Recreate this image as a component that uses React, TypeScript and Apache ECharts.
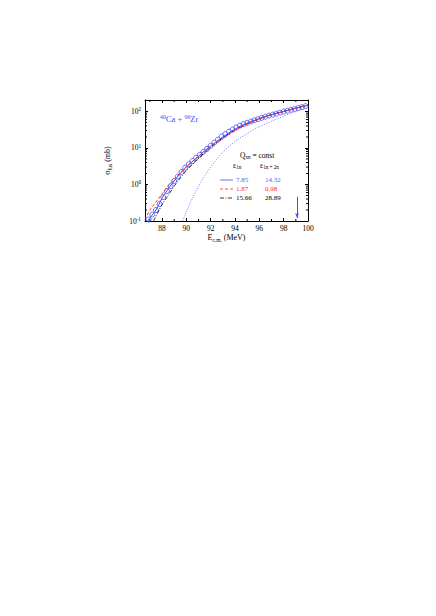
import React, { useEffect, useRef } from 'react';
import * as echarts from 'echarts';

const X_MIN = 86.6;
const X_MAX = 100;
const Y_MIN = 0.1;
const Y_MAX = 206;

const xTicks = [88, 90, 92, 94, 96, 98, 100];
const xMinorTicks = [87, 89, 91, 93, 95, 97, 99];
const yMinorTicks = [0.2, 0.3, 0.4, 0.5, 0.6, 0.7, 0.8, 0.9, 2, 3, 4, 5, 6, 7, 8, 9, 20, 30, 40, 50, 60, 70, 80, 90, 200];

// experimental points (open circles)
const expE = [86.9, 87.2, 87.5, 87.8, 88.1, 88.4, 88.7, 89.0, 89.3, 89.6, 89.9, 90.2, 90.5, 90.8, 91.1, 91.4, 91.7, 92.0, 92.3, 92.6, 92.9, 93.2, 93.5, 93.8, 94.1, 94.4, 94.7, 95.0, 95.3, 95.6, 95.9, 96.2, 96.5, 96.8, 97.1, 97.4, 97.7, 98.0, 98.3, 98.6, 98.9, 99.2, 99.5, 99.8];
const expSigma = [0.11, 0.15, 0.2, 0.29, 0.45, 0.66, 0.9, 1.25, 1.65, 2.2, 2.9, 3.6, 4.4, 5.4, 6.5, 7.8, 9.4, 11.5, 14, 17, 20.5, 24, 28, 32, 36.5, 41, 45, 49, 53, 57.5, 62, 67, 72, 77, 82, 87, 93, 99, 105, 111, 117, 124, 131, 140];

// solid blue
const solidE = [86.8, 87.5, 88.0, 88.5, 89.0, 89.5, 90.0, 91.0, 92.0, 93.0, 94.0, 95.0, 96.0, 97.0, 98.0, 99.0, 100.0];
const solidSigma = [0.1, 0.2, 0.42, 0.75, 1.25, 2.0, 3.0, 6.0, 11.5, 20, 33, 48, 64, 82, 100, 122, 150];

// dashed red
const dashE = [86.6, 87.0, 87.5, 88.0, 88.5, 89.0, 90.0, 91.0, 92.0, 93.0, 94.0, 95.0, 96.0, 97.0, 98.0, 99.0, 100.0];
const dashSigma = [0.11, 0.2, 0.33, 0.55, 0.9, 1.4, 3.1, 5.8, 10.5, 18, 30, 45, 62, 80, 100, 123, 150];

// dash-dot black
const dashDotE = [87.3, 88.0, 88.5, 89.0, 89.5, 90.0, 91.0, 92.0, 93.0, 94.0, 95.0, 96.0, 97.0, 98.0, 99.0, 100.0];
const dashDotSigma = [0.1, 0.28, 0.5, 0.9, 1.5, 2.4, 5.2, 10.5, 19, 31, 46, 63, 82, 101, 124, 150];

// dotted blue
const dotE = [89.7, 90.0, 90.5, 91.0, 91.5, 92.0, 92.5, 93.0, 94.0, 95.0, 96.0, 97.0, 98.0, 99.0, 100.0];
const dotSigma = [0.1, 0.18, 0.42, 0.9, 1.7, 3.0, 5.0, 7.8, 15, 25, 38, 54, 74, 100, 140];

// arrow
const arrowE = 99.1;
const arrowFrom = 0.46;
const arrowTo = 0.12;

// legend table
const legendRows = [
  { e1: '7.85', e2: '14.32', color: '#3f4fff', textColor: '#4a5cff', dash: 'solid' },
  { e1: '1.87', e2: '0.98', color: '#ff2a2a', textColor: '#ff2a2a', dash: [3, 2] },
  { e1: '15.66', e2: '28.89', color: '#000000', textColor: '#000000', dash: [4, 1.5, 1, 1.5] },
];

const FONT = 'Liberation Serif';
const BLUE = '#3f4fff';

function zip(a: number[], b: number[]) {
  return a.map((v, i) => [v, b[i]]);
}

function richSub(size: number, color: string, key: string) {
  return {
    a: { fontFamily: FONT, fontSize: size, [key]: color, lineHeight: 9, verticalAlign: 'middle' },
    s: { fontFamily: FONT, fontSize: size * 0.68, [key]: color, lineHeight: 5, verticalAlign: 'bottom' },
  };
}
function richSup(size: number, color: string, key: string) {
  return {
    b: { fontFamily: FONT, fontSize: size, [key]: color, lineHeight: 9, verticalAlign: 'middle' },
    s: { fontFamily: FONT, fontSize: size * 0.7, [key]: color, lineHeight: 5, verticalAlign: 'top' },
  };
}

export default function App() {
  const ref = useRef<HTMLDivElement>(null);
  useEffect(() => {
    if (!ref.current) return;
    const chart = echarts.init(ref.current, null, { renderer: 'svg' });
    const yLabelFmt = (v: number) => {
      const l = Math.log10(v);
      if (Math.abs(l - Math.round(l)) > 1e-6) return '';
      return `{b|10}{s|${Math.round(l)}}`;
    };
    const axisLine = { lineStyle: { color: '#000', width: 1 } };
    const option: any = {
      animation: false,
      backgroundColor: '#fff',
      grid: { left: 145, top: 100, width: 163, height: 121 },
      xAxis: [
        {
          type: 'value', min: X_MIN, max: X_MAX, position: 'bottom',
          axisLine, splitLine: { show: false },
          axisTick: { inside: true, length: 3, customValues: xTicks, lineStyle: { color: '#000' } },
          axisLabel: { margin: 3, fontFamily: FONT, fontSize: 7.5, color: '#000', customValues: xTicks },
          name: '{a|E}{s|c.m.}{a| (MeV)}', nameLocation: 'middle', nameGap: 12,
          nameTextStyle: { rich: richSub(8, '#000', 'color') },
        },
        {
          type: 'value', min: X_MIN, max: X_MAX, position: 'top',
          axisLine, splitLine: { show: false },
          axisTick: { inside: true, length: 3, customValues: xTicks, lineStyle: { color: '#000' } },
          axisLabel: { show: false },
        },
      ],
      yAxis: [
        {
          type: 'log', logBase: 10, min: Y_MIN, max: Y_MAX, position: 'left',
          axisLine, splitLine: { show: false },
          axisTick: { inside: true, length: 3, lineStyle: { color: '#000' } },
          axisLabel: { margin: 4, formatter: yLabelFmt, rich: richSup(7.5, '#000', 'color') },
          name: '{a|σ}{s|fus}{a| (mb)}', nameLocation: 'middle', nameGap: 33, nameRotate: 90,
          nameTextStyle: { rich: richSub(8, '#000', 'color') },
        },
        {
          type: 'log', logBase: 10, min: Y_MIN, max: Y_MAX, position: 'right',
          axisLine, splitLine: { show: false },
          axisTick: { inside: true, length: 3, lineStyle: { color: '#000' } },
          axisLabel: { show: false },
        },
      ],
      series: [
        {
          type: 'custom', xAxisIndex: 0, yAxisIndex: 0, silent: true, clip: false,
          data: [
            ...yMinorTicks.map((v) => [0, v]),
            ...xMinorTicks.map((v) => [1, v]),
          ],
          encode: { x: -1, y: -1 },
          renderItem: (params: any, api: any) => {
            const kind = api.value(0);
            const v = api.value(1);
            const st = { stroke: '#000', lineWidth: 1 };
            if (kind === 0) {
              const pl = api.coord([X_MIN, v]);
              const pr = api.coord([X_MAX, v]);
              return {
                type: 'group',
                children: [
                  { type: 'line', shape: { x1: pl[0], y1: pl[1], x2: pl[0] + 2, y2: pl[1] }, style: st },
                  { type: 'line', shape: { x1: pr[0], y1: pr[1], x2: pr[0] - 2, y2: pr[1] }, style: st },
                ],
              };
            }
            const pb = api.coord([v, Y_MIN]);
            const pt = api.coord([v, Y_MAX]);
            return {
              type: 'group',
              children: [
                { type: 'line', shape: { x1: pb[0], y1: pb[1], x2: pb[0], y2: pb[1] - 2 }, style: st },
                { type: 'line', shape: { x1: pt[0], y1: pt[1], x2: pt[0], y2: pt[1] + 2 }, style: st },
              ],
            };
          },
        },
        {
          type: 'line', data: zip(dotE, dotSigma), symbol: 'none', smooth: 0.3,
          lineStyle: { color: '#6f7dff', width: 1, type: [1, 1.5] },
        },
        {
          type: 'line', data: zip(dashDotE, dashDotSigma), symbol: 'none', smooth: 0.3,
          lineStyle: { color: '#000', width: 0.8, type: [4, 1.5, 1, 1.5] },
        },
        {
          type: 'line', data: zip(solidE, solidSigma), symbol: 'none', smooth: 0.3,
          lineStyle: { color: BLUE, width: 1 },
        },
        {
          type: 'line', data: zip(dashE, dashSigma), symbol: 'none', smooth: 0.3,
          lineStyle: { color: '#ff2a2a', width: 1, type: [3, 2] },
        },
        {
          type: 'scatter', data: zip(expE, expSigma), symbol: 'circle', symbolSize: 5,
          itemStyle: { color: 'rgba(0,0,0,0)', borderColor: BLUE, borderWidth: 1 },
        },
        {
          type: 'line', data: [], symbol: 'none',
          markLine: {
            silent: true, symbol: ['none', 'arrow'], symbolSize: [3, 5],
            label: { show: false },
            lineStyle: { color: BLUE, width: 1, type: 'solid' },
            data: [[{ coord: [arrowE, arrowFrom] }, { coord: [arrowE, arrowTo] }]],
          },
        },
      ],
      graphic: [
        {
          type: 'text', left: 160, top: 114,
          style: { text: '{s|40}{b|Ca + }{s|96}{b|Zr}', rich: richSup(8.5, BLUE, 'fill') },
        },
        {
          type: 'text', left: 240, top: 151,
          style: { text: '{a|Q}{s|xn}{a| = const}', rich: richSub(7.5, '#000', 'fill') },
        },
        {
          type: 'text', left: 233, top: 161,
          style: { text: '{a|ε}{s|1n}', rich: richSub(7.5, '#000', 'fill') },
        },
        {
          type: 'text', left: 260, top: 161,
          style: { text: '{a|ε}{s|1n + 2n}', rich: richSub(7.5, '#000', 'fill') },
        },
        ...legendRows.flatMap((r, i) => {
          const y = 180 + i * 9;
          return [
            {
              type: 'line', shape: { x1: 220, y1: y, x2: 233, y2: y },
              style: { stroke: r.color, lineWidth: 0.8, lineDash: r.dash === 'solid' ? null : r.dash },
            },
            {
              type: 'text', x: 236, y,
              style: { text: r.e1, fontFamily: FONT, fontSize: 7, fill: r.textColor, textVerticalAlign: 'middle' },
            },
            {
              type: 'text', x: 265, y,
              style: { text: r.e2, fontFamily: FONT, fontSize: 7, fill: r.textColor, textVerticalAlign: 'middle' },
            },
          ];
        }),
      ],
    };
    chart.setOption(option);
    return () => chart.dispose();
  }, []);
  return (
    <div
      ref={ref}
      style={{ position: 'fixed', left: 0, top: 0, width: 436, height: 616, background: '#fff' }}
    />
  );
}
